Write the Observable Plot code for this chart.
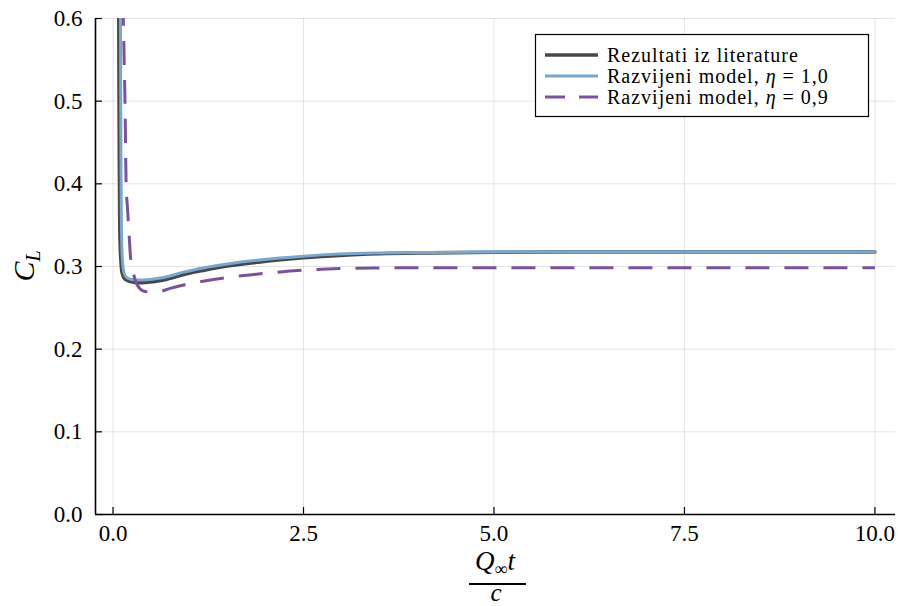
<!DOCTYPE html>
<html><head><meta charset="utf-8">
<script src="https://cdn.jsdelivr.net/npm/d3@7"></script>
<script src="https://cdn.jsdelivr.net/npm/@observablehq/plot@0.6"></script>
<style>body{margin:0;background:#fff} #chart{width:898px;height:606px;}</style>
</head><body><div id="chart"></div>
<script>
const xTicks = [0, 2.5, 5, 7.5, 10];
const yTicks = [0, 0.1, 0.2, 0.3, 0.4, 0.5, 0.6];
const seriesNames = ["Rezultati iz literature", "Razvijeni model, ", "Razvijeni model, "];
const seriesMath = ["", "η", "η"];
const seriesMathVal = ["", " = 1,0", " = 0,9"];
const colors = ["#474747", "#7ba6cd", "#7b519c"];

const litX = [0.076, 0.079, 0.083, 0.088, 0.095, 0.104, 0.113, 0.125, 0.145, 0.18, 0.23, 0.29, 0.36, 0.42, 0.55, 0.68, 0.94, 1.2, 1.5, 1.93, 2.5, 2.97, 3.5, 4.15, 5.0, 6.0, 8.0, 10.0];
const litY = [0.62, 0.52, 0.43, 0.36, 0.325, 0.307, 0.296, 0.2905, 0.2862, 0.2838, 0.2818, 0.2807, 0.2804, 0.2806, 0.2818, 0.284, 0.2905, 0.2955, 0.3005, 0.3055, 0.3105, 0.3135, 0.3155, 0.3165, 0.3172, 0.3175, 0.3175, 0.3175];

const modX = [0.097, 0.1, 0.104, 0.109, 0.115, 0.123, 0.133, 0.148, 0.17, 0.2, 0.25, 0.31, 0.38, 0.45, 0.58, 0.72, 0.94, 1.2, 1.5, 1.93, 2.5, 2.97, 3.5, 4.15, 5.0, 6.0, 8.0, 10.0];
const modY = [0.62, 0.52, 0.43, 0.36, 0.325, 0.308, 0.298, 0.2915, 0.2875, 0.2855, 0.2842, 0.2836, 0.2836, 0.284, 0.2855, 0.288, 0.2935, 0.2985, 0.303, 0.308, 0.3125, 0.315, 0.3163, 0.317, 0.3174, 0.3175, 0.3175, 0.3175];

const mod09X = [0.128, 0.135, 0.146, 0.157, 0.172, 0.19, 0.21, 0.23, 0.25, 0.27, 0.3, 0.35, 0.42, 0.5, 0.6, 0.75, 0.94, 1.2, 1.53, 2.06, 2.58, 2.97, 3.5, 4.2, 5.0, 6.0, 8.0, 10.0];
const mod09Y = [0.62, 0.6, 0.55, 0.5, 0.4, 0.37, 0.34, 0.311, 0.30, 0.291, 0.281, 0.2735, 0.2698, 0.269, 0.2695, 0.2735, 0.278, 0.2825, 0.287, 0.2923, 0.296, 0.2975, 0.2982, 0.2985, 0.2985, 0.2985, 0.2985, 0.2985];

const xDomain = [-0.23, 10.27];
const yDomain = [0, 0.6];

const toRows = (xs, ys) => xs.map((x, i) => ({x, y: ys[i]}));
const lit = toRows(litX, litY);
const mod = toRows(modX, modY);
const mod09 = toRows(mod09X, mod09Y);

const font = "'Liberation Serif', 'DejaVu Serif', serif";

const plot = Plot.plot({
  width: 898, height: 606,
  marginTop: 18, marginBottom: 92, marginLeft: 95, marginRight: 3,
  x: {domain: xDomain},
  y: {domain: yDomain},
  style: {fontFamily: font, fontSize: "23px", background: "white", color: "black"},
  marks: [
    Plot.gridX(xTicks, {stroke: "black", strokeOpacity: 0.1, strokeWidth: 1}),
    Plot.gridY(yTicks, {stroke: "black", strokeOpacity: 0.1, strokeWidth: 1}),
    Plot.line(lit, {x: "x", y: "y", stroke: colors[0], strokeWidth: 3.6, curve: "monotone-x", clip: true}),
    Plot.line(mod, {x: "x", y: "y", stroke: colors[1], strokeWidth: 3, curve: "monotone-x", clip: true}),
    Plot.line(mod09, {x: "x", y: "y", stroke: colors[2], strokeWidth: 3, strokeDasharray: "24,15", strokeLinecap: "butt", curve: "monotone-x", clip: true}),
    Plot.ruleX([xDomain[0]], {stroke: "black", strokeWidth: 1.6}),
    Plot.ruleY([yDomain[0]], {stroke: "black", strokeWidth: 1.6}),
    Plot.axisX(xTicks, {tickSize: 7, dy: -7, fill: "none", label: null, stroke: "black", strokeWidth: 1.2}),
    Plot.axisY(yTicks, {tickSize: 7, dx: 7, fill: "none", label: null, stroke: "black", strokeWidth: 1.2}),
    Plot.axisX(xTicks, {tickSize: 0, tickPadding: 10, tickFormat: d3.format(".1f"), label: null, fontSize: 23}),
    Plot.axisY(yTicks, {tickSize: 0, tickPadding: 13, tickFormat: d3.format(".1f"), label: null, fontSize: 23})
  ]
});
document.getElementById("chart").appendChild(plot);

const svg = d3.select(plot);
const ns = svg.append("g").attr("font-family", font).attr("fill", "black");

// Legend
const lg = ns.append("g").attr("text-anchor", "start");
lg.append("rect").attr("x", 535.5).attr("y", 34.5).attr("width", 333).attr("height", 82)
  .attr("fill", "white").attr("stroke", "black").attr("stroke-width", 1.2);
const rowY = [55, 76, 97];
const dash = [null, null, "20,14"];
const lw = [3.6, 3, 3];
seriesNames.forEach((name, i) => {
  lg.append("line").attr("x1", 545).attr("x2", 598).attr("y1", rowY[i]).attr("y2", rowY[i])
    .attr("stroke", colors[i]).attr("stroke-width", lw[i]).attr("stroke-dasharray", dash[i]);
  const t = lg.append("text").attr("x", 607).attr("y", rowY[i] + 7).attr("font-size", 20)
    .attr("letter-spacing", "1px").attr("text-anchor", "start");
  t.append("tspan").text(name);
  if (seriesMath[i]) {
    t.append("tspan").attr("font-style", "italic").text(seriesMath[i]);
    t.append("tspan").text(seriesMathVal[i]);
  }
});

// Y label C_L
const yl = ns.append("text").attr("transform", "translate(34,266) rotate(-90)").attr("text-anchor", "middle")
  .attr("font-style", "italic").attr("font-size", 30);
yl.append("tspan").text("C");
yl.append("tspan").attr("font-size", 20).attr("dy", 6).text("L");

// X label fraction
const xl = ns.append("text").attr("x", 495).attr("y", 570).attr("text-anchor", "middle").attr("font-style", "italic").attr("font-size", 27);
xl.append("tspan").text("Q");
xl.append("tspan").attr("font-size", 18).attr("font-style", "normal").attr("dy", 5).text("∞");
xl.append("tspan").attr("dy", -5).text("t");
ns.append("line").attr("x1", 469).attr("x2", 526).attr("y1", 584).attr("y2", 584).attr("stroke", "black").attr("stroke-width", 2);
ns.append("text").attr("x", 496).attr("y", 601).attr("text-anchor", "middle").attr("font-style", "italic").attr("font-size", 25).text("c");
</script>
</body></html>
